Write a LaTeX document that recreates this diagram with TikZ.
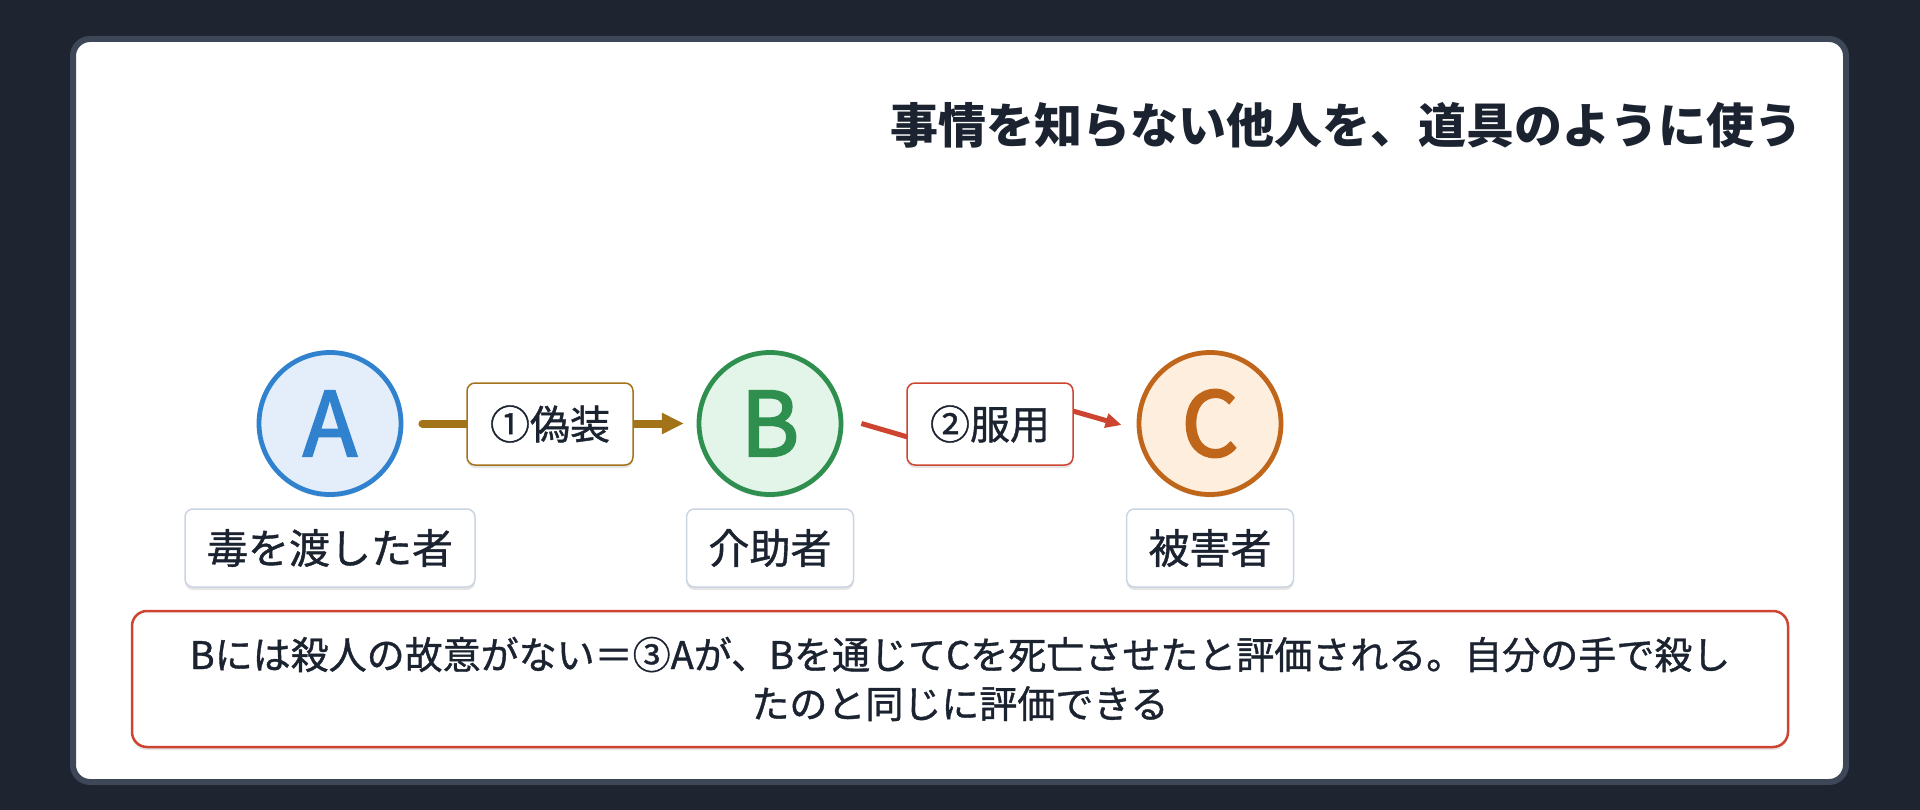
\documentclass[tikz,border=0pt]{standalone}
\usepackage{fontspec}
\setmainfont{Noto Sans CJK JP}
\newfontfamily\medfont{Noto Sans CJK JP}[FakeBold=1]
\newfontfamily\letterfont{Noto Sans CJK JP}[FakeBold=2.5]
\usetikzlibrary{arrows.meta,shadows,calc}
\definecolor{bgdark}{HTML}{1E2430}
\definecolor{cardline}{HTML}{3D4757}
\definecolor{ink}{HTML}{1C2330}
\definecolor{blueA}{HTML}{3182CE}
\definecolor{bluefill}{HTML}{E3EEFA}
\definecolor{greenB}{HTML}{2F8F4F}
\definecolor{greenfill}{HTML}{E3F5E8}
\definecolor{orangeC}{HTML}{C0661A}
\definecolor{orangefill}{HTML}{FDEEDD}
\definecolor{gold}{HTML}{A3731A}
\definecolor{redc}{HTML}{CD4430}
\definecolor{labelline}{HTML}{CBD5E1}
\tikzset{
  softshadow/.style={drop shadow={shadow xshift=0pt, shadow yshift=-3pt, opacity=0.10, fill=black}},
  person/.style={circle, minimum size=142pt, line width=4.8pt, inner sep=0pt,
    font=\letterfont\fontsize{89}{100}\selectfont, softshadow},
  namebox/.style={draw=labelline, line width=1.5pt, fill=white, rounded corners=8pt,
    minimum height=78pt, inner xsep=22pt, inner ysep=0pt,
    font=\medfont\fontsize{41}{48}\selectfont, text=ink, softshadow},
  edgebox/.style={fill=white, line width=1.5pt, rounded corners=8pt,
    minimum height=82pt, inner xsep=23pt, inner ysep=0pt,
    font=\medfont\fontsize{40}{48}\selectfont, text=ink, softshadow},
  goldarrow/.style={line width=8pt, draw=gold, line cap=round,
    -{Triangle[length=22pt,width=20pt]}},
  redarrow/.style={line width=5pt, draw=redc, -{Triangle[length=16pt,width=14pt]}},
}
\begin{document}
\begin{tikzpicture}[x=1pt,y=-1pt]
\fill[bgdark] (0,0) rectangle (1920,810);
\useasboundingbox (0,0) rectangle (1920,810);
% card
\draw[line width=6pt, draw=cardline, fill=white, rounded corners=17pt] (73,39) rectangle (1846,782);
% title
\node[anchor=east, inner sep=0pt, font=\bfseries\fontsize{48}{58}\selectfont, text=ink] (title) at (1803,125) {事情を知らない他人を、道具のように使う};
% persons
\node[person, draw=blueA, fill=bluefill, text=blueA] (A) at (330,423.5) {A};
\node[person, draw=greenB, fill=greenfill, text=greenB] (B) at (770,423.5) {B};
\node[person, draw=orangeC, fill=orangefill, text=orangeC] (C) at (1210,423.5) {C};
% name labels
\node[namebox] (nA) at (330,548) {毒を渡した者};
\node[namebox] (nB) at (770,548) {介助者};
\node[namebox] (nC) at (1210,548) {被害者};
% edges
\draw[goldarrow, shorten <=19pt, shorten >=12.75pt] (A) -- (B);
\coordinate (r1) at ($(B.east)+(18,0)$);
\coordinate (r2) at ($(990,424)+(-55,21)$);
\coordinate (r3) at ($(990,424)+(55,-21)$);
\coordinate (r4) at ($(C.west)+(-15,1.5)$);
\draw[redarrow] (r1) -- (r2) -- (r3) -- (r4);
% edge labels
\node[edgebox, draw=gold] (e1) at (550,424) {①偽装};
\node[edgebox, draw=redc] (e2) at (990,424) {②服用};
% note
\node[draw=redc, line width=2.5pt, fill=white, rounded corners=15pt,
  minimum width=1656pt, minimum height=136pt, inner sep=0pt, align=center,
  font=\medfont\fontsize{38}{49}\selectfont, text=ink, softshadow] (note) at (960,679)
  {Bには殺人の故意がない＝③Aが、Bを通じてCを死亡させたと評価される。自分の手で殺し\\たのと同じに評価できる};
\end{tikzpicture}
\end{document}
